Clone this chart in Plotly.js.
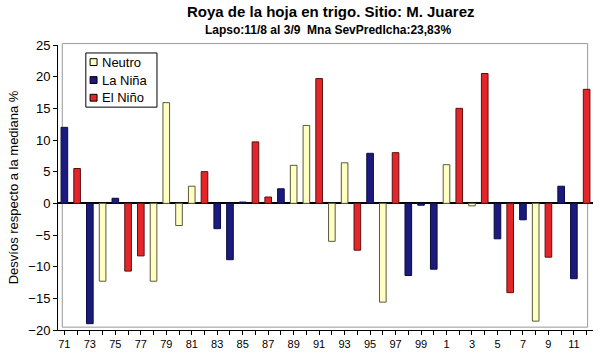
<!DOCTYPE html>
<html>
<head>
<meta charset="utf-8">
<script src="https://cdn.plot.ly/plotly-3.0.1.min.js"></script>
<style>html,body{margin:0;padding:0;background:#fff}#chart{width:600px;height:353px}</style>
</head>
<body>
<div id="chart"></div>
<script>
const years = ["71","72","73","74","75","76","77","78","79","80","81","82","83","84","85","86","87","88","89","90","91","92","93","94","95","96","97","98","99","0","1","2","3","4","5","6","7","8","9","10","11","12"];
const values = [12.0,5.5,-19.0,-12.3,0.8,-10.7,-8.3,-12.3,15.9,-3.5,2.7,5.0,-4.0,-8.9,0.2,9.7,1.0,2.3,6.0,12.3,19.7,-6.0,6.4,-7.4,7.9,-15.6,8.0,-11.4,-0.3,-10.4,6.1,15.0,-0.4,20.5,-5.6,-14.1,-2.6,-18.6,-8.5,2.7,-11.9,18.0];
const phases = ["N","E","N","U","N","E","E","U","U","U","U","E","N","N","N","E","E","N","U","U","E","U","U","E","N","U","E","N","N","N","U","E","U","E","N","E","N","U","E","N","N","E"];
// U = Neutro, N = La Niña, E = El Niño
const seriesKeys = ["U","N","E"];
const seriesNames = {U:"Neutro", N:"La Niña", E:"El Niño"};
const seriesColors = {U:"#FFFFC4", N:"#1B1B7E", E:"#E4262B"};
const seriesLines = {U:"#5a5a3a", N:"#0b0b40", E:"#5a1010"};

const traces = seriesKeys.map(k => ({
  type: "bar",
  name: seriesNames[k],
  x: years,
  y: values.map((v,i) => phases[i] === k ? v : null),
  marker: {color: seriesColors[k], line: {color: seriesLines[k], width: 1}},
  hoverinfo: "x+y"
}));

const tickText = years.map((y,i) => i % 2 === 0 ? y : "");

// custom compact legend (paper coords)
const lgX0 = 0.052, lgX1 = 0.185, lgY0 = 0.782, lgY1 = 0.972;
const rowY = [0.940, 0.877, 0.815];
const shapes = [
  {type: "rect", xref: "paper", yref: "paper", x0: 0.008, x1: 0.99, y0: 0.01, y1: 1.005,
   line: {color: "#999", width: 1}, layer: "below"},
  {type: "rect", xref: "paper", yref: "paper", x0: lgX0, x1: lgX1, y0: lgY0, y1: lgY1,
   line: {color: "#000", width: 1}, fillcolor: "#fff", layer: "above"}
];
const annotations = [
  {text: "<b>Roya de la hoja en trigo. Sitio: M. Juarez</b>", xref: "paper", yref: "paper",
   x: 0.51, y: 1.0, yshift: 44, xanchor: "center", yanchor: "top", showarrow: false,
   font: {size: 15, color: "#000"}},
  {text: "<b>Lapso:11/8 al 3/9  Mna SevPredIcha:23,83%</b>", xref: "paper", yref: "paper",
   x: 0.505, y: 1.0, yshift: 24, xanchor: "center", yanchor: "top", showarrow: false,
   font: {size: 12, color: "#000"}}
];
seriesKeys.forEach((k, i) => {
  shapes.push({type: "rect", xref: "paper", yref: "paper",
    x0: 0.060, x1: 0.073, y0: rowY[i] - 0.012, y1: rowY[i] + 0.012,
    fillcolor: seriesColors[k], line: {color: "#000", width: 1}, layer: "above"});
  annotations.push({text: seriesNames[k], xref: "paper", yref: "paper",
    x: 0.078, y: rowY[i], xanchor: "left", yanchor: "middle", showarrow: false,
    font: {size: 13, color: "#000"}});
});

const layout = {
  width: 600, height: 353,
  margin: {l: 58, r: 7, t: 45, b: 23},
  paper_bgcolor: "#fff", plot_bgcolor: "#fff",
  barmode: "overlay",
  bargap: 0.48,
  showlegend: false,
  font: {family: "Liberation Sans, Arial, sans-serif", color: "#000"},
  xaxis: {
    type: "category",
    tickmode: "array", tickvals: years, ticktext: tickText,
    ticks: "outside", ticklen: 4, tickcolor: "#000",
    showline: true, linecolor: "#000", linewidth: 1,
    showgrid: false,
    tickfont: {size: 11, color: "#000"},
    range: [-0.5, 41.5]
  },
  yaxis: {
    range: [-20, 25],
    tickvals: [-20,-15,-10,-5,0,5,10,15,20,25],
    ticks: "outside", ticklen: 4, tickcolor: "#000",
    showline: true, linecolor: "#000", linewidth: 1,
    showgrid: false,
    zeroline: true, zerolinecolor: "#000", zerolinewidth: 2,
    tickfont: {size: 13, color: "#000"},
    title: {text: "Desvíos respecto a la mediana %", font: {size: 13, color: "#000"}, standoff: 6}
  },
  shapes: shapes,
  annotations: annotations
};

Plotly.newPlot("chart", traces, layout, {displayModeBar: false, staticPlot: true});
</script>
</body>
</html>
